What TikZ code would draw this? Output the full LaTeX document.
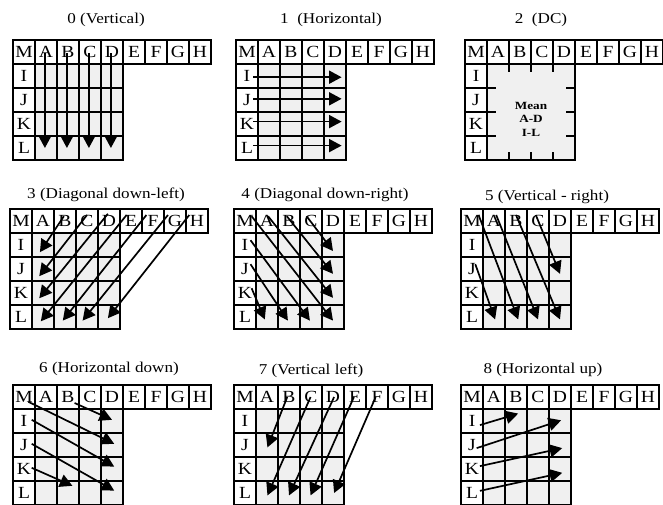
\documentclass[tikz,border=0pt]{standalone}
\usepackage{fontspec}
\setmainfont{Liberation Serif}
\newfontfamily\cellfont[FakeStretch=1.15]{Liberation Serif}
\newfontfamily\titlefont[FakeStretch=1.14]{Liberation Serif}
\newfontfamily\meanfont[FakeStretch=1.2]{Liberation Serif}
\usetikzlibrary{arrows.meta}
\tikzset{
  gl/.style={line width=1.2pt},
  letter/.style={font=\cellfont\fontsize{17}{17}\selectfont, inner sep=0pt},
  ptitle/.style={font=\titlefont\fontsize{15}{15}\selectfont, inner sep=0pt},
  parrow/.style={line width=1.7pt, -{Triangle[length=12.5pt,width=13pt]}},
  cellgray/.style={fill=black!6},
  meantext/.style={font=\meanfont\bfseries\fontsize{11}{13.5}\selectfont, align=center, inner sep=0pt},
}
\newcommand\hdr[1]{%
  \foreach \c [count=\i from 0] in {M,A,B,C,D,E,F,G,H}
    \node[letter] (#1\c) at (\i+0.5,0.5) {\c};
  \foreach \c [count=\i from 1] in {I,J,K,L}
    \node[letter] (#1\c) at (0.5,\i+0.5) {\c};
}
\newcommand\fullgrid{%
  \fill[cellgray] (1,1) rectangle (5,5);
  \draw[gl] (0,0) rectangle (9,1);
  \foreach \i in {1,...,8} \draw[gl] (\i,0) -- (\i,1);
  \draw[gl] (0,1) rectangle (5,5);
  \foreach \i in {1,...,4} \draw[gl] (\i,1) -- (\i,5);
  \foreach \j in {2,3,4} \draw[gl] (0,\j) -- (5,\j);
}
\newcommand\dcgrid{%
  \fill[cellgray] (1,1) rectangle (5,5);
  \draw[gl] (0,0) rectangle (9,1);
  \foreach \i in {1,...,8} \draw[gl] (\i,0) -- (\i,1);
  \draw[gl] (0,1) rectangle (5,5);
  \draw[gl] (1,1) -- (1,5);
  \foreach \j in {2,3,4} {\draw[gl] (0,\j) -- (1.4,\j); \draw[gl] (4.6,\j) -- (5,\j);}
  \foreach \i in {2,3,4} {\draw[gl] (\i,1) -- (\i,1.33); \draw[gl] (\i,4.67) -- (\i,5);}
}
\begin{document}
\begin{tikzpicture}[x=1pt,y=-1pt]
\useasboundingbox (0,0) rectangle (663,504);
% titles
\node[ptitle] (t0) at (106,20) {0 (Vertical)};
\node[ptitle] (t1) at (331,20) {1\ \ (Horizontal)};
\node[ptitle] (t2) at (541,20) {2\ \ (DC)};
\node[ptitle] (t3) at (106,195) {3 (Diagonal down-left)};
\node[ptitle] (t4) at (325,195) {4 (Diagonal down-right)};
\node[ptitle] (t5) at (547,197) {5 (Vertical - right)};
\node[ptitle] (t6) at (109,369) {6 (Horizontal down)};
\node[ptitle] (t7) at (311,371) {7 (Vertical left)};
\node[ptitle] (t8) at (543,370) {8 (Horizontal up)};
% panel 0
\begin{scope}[shift={(13,40)},x=22pt,y=-24pt]
  \fullgrid \hdr{p0}
  \foreach \u in {1.45,2.45,3.45,4.45} \draw[parrow] (\u,0.55) -- (\u,4.5);
\end{scope}
% panel 1
\begin{scope}[shift={(236,40)},x=22pt,y=-24pt]
  \fullgrid \hdr{p1}
  \foreach \v in {1.55,2.45,3.4,4.4} \draw[parrow] (0.78,\v) -- (4.8,\v);
\end{scope}
% panel 2
\begin{scope}[shift={(465,40)},x=22pt,y=-24pt]
  \dcgrid \hdr{p2}
  \node[meantext] (p2mean) at (3,3.3) {Mean\\A-D\\I-L};
\end{scope}
% panel 3
\begin{scope}[shift={(10,209)},x=22pt,y=-24pt]
  \fullgrid \hdr{p3}
  \draw[parrow] (2.45,0.3) -- (1.36,1.8);
  \draw[parrow] (3.5,0.25) -- (1.33,2.8);
  \draw[parrow] (4.45,0.2) -- (1.33,3.72);
  \draw[parrow] (5.3,0.25) -- (1.4,4.68);
  \draw[parrow] (6.2,0.25) -- (2.4,4.65);
  \draw[parrow] (7.18,0.25) -- (3.3,4.65);
  \draw[parrow] (8.15,0.25) -- (4.45,4.55);
\end{scope}
% panel 4
\begin{scope}[shift={(234,209)},x=22pt,y=-24pt]
  \fullgrid \hdr{p4}
  \draw[parrow] (3.3,0.3) -- (4.5,1.75);
  \draw[parrow] (2.4,0.3) -- (4.5,2.7);
  \draw[parrow] (1.55,0.3) -- (4.5,3.7);
  \draw[parrow] (0.8,0.3) -- (4.5,4.65);
  \draw[parrow] (0.75,1.3) -- (3.45,4.65);
  \draw[parrow] (0.75,2.3) -- (2.45,4.65);
  \draw[parrow] (0.8,3.3) -- (1.4,4.6);
\end{scope}
% panel 5
\begin{scope}[shift={(461,209)},x=22pt,y=-24pt]
  \fullgrid \hdr{p5}
  \draw[parrow] (0.8,0.25) -- (2.6,4.6);
  \draw[parrow] (1.6,0.25) -- (3.5,4.6);
  \draw[parrow] (2.5,0.25) -- (4.5,4.6);
  \draw[parrow] (3.4,0.25) -- (4.5,2.7);
  \draw[parrow] (0.65,2.3) -- (1.55,4.6);
\end{scope}
% panel 6
\begin{scope}[shift={(13,385)},x=22pt,y=-24pt]
  \fullgrid \hdr{p6}
  \draw[parrow] (2.8,0.75) -- (4.5,1.45);
  \draw[parrow] (0.7,0.7) -- (4.6,2.45);
  \draw[parrow] (0.85,1.45) -- (4.6,3.4);
  \draw[parrow] (0.85,2.45) -- (4.6,4.4);
  \draw[parrow] (0.85,3.45) -- (2.7,4.2);
\end{scope}
% panel 7
\begin{scope}[shift={(234,385)},x=22pt,y=-24pt]
  \fullgrid \hdr{p7}
  \draw[parrow] (2.42,0.5) -- (1.52,2.6);
  \draw[parrow] (3.48,0.5) -- (1.52,4.6);
  \draw[parrow] (4.55,0.5) -- (2.5,4.6);
  \draw[parrow] (5.45,0.5) -- (3.48,4.6);
  \draw[parrow] (6.44,0.5) -- (4.55,4.5);
\end{scope}
% panel 8
\begin{scope}[shift={(461,385)},x=22pt,y=-24pt]
  \fullgrid \hdr{p8}
  \draw[parrow] (0.86,1.67) -- (2.6,1.19);
  \draw[parrow] (0.71,2.63) -- (4.55,1.47);
  \draw[parrow] (0.86,3.38) -- (4.6,2.63);
  \draw[parrow] (0.86,4.41) -- (4.6,3.66);
\end{scope}
\end{tikzpicture}
\end{document}
